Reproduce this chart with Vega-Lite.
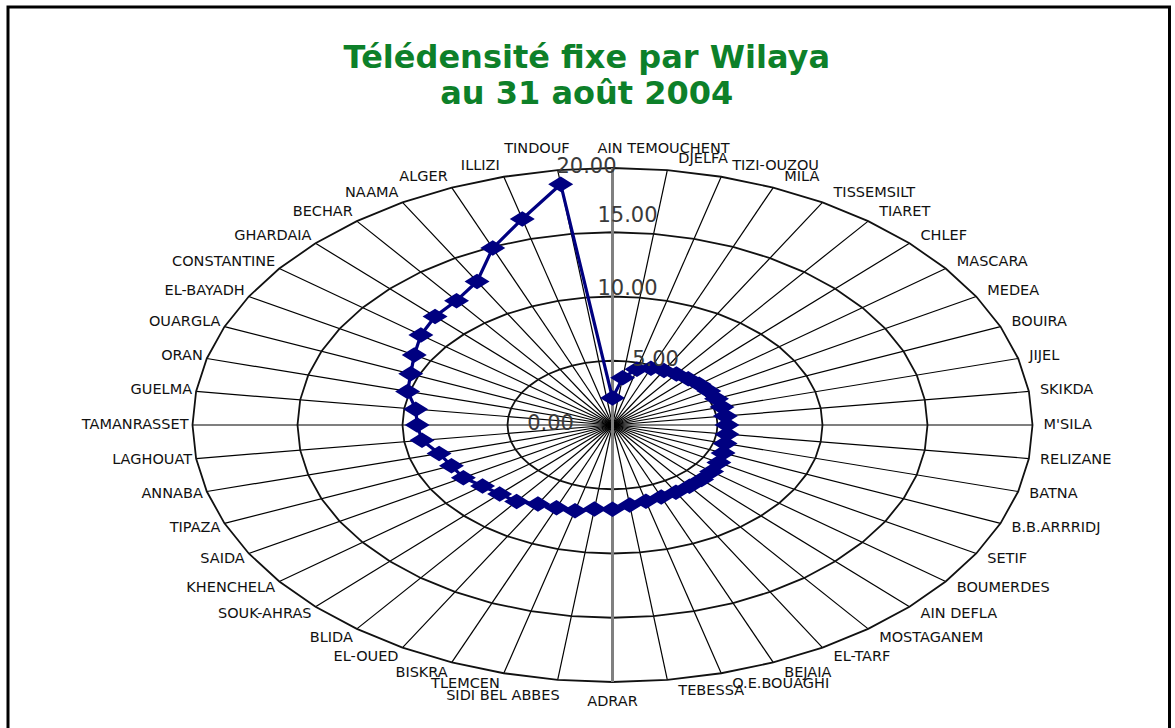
{
  "$schema": "https://vega.github.io/schema/vega-lite/v6.json",
  "width": 1161.5,
  "height": 724,
  "autosize": "none",
  "padding": {"left": 8, "top": 7, "right": 5.5, "bottom": -3},
  "background": "white",
  "config": {"view": {"stroke": "#000000", "strokeWidth": 3}, "font": "DejaVu Sans"},
  "title": {
    "text": ["Télédensité fixe par Wilaya", "au 31 août 2004"],
    "font": "DejaVu Sans",
    "fontSize": 32,
    "fontWeight": "bold",
    "color": "#0d8029",
    "lineHeight": 36,
    "anchor": "middle",
    "frame": "group",
    "offset": -104,
    "dx": -2
  },
  "datasets": {
    "wilaya": [
      {"name": "AIN TEMOUCHENT", "idx": 0, "v": 2.1},
      {"name": "DJELFA", "idx": 1, "v": 3.7},
      {"name": "TIZI-OUZOU", "idx": 2, "v": 4.5},
      {"name": "MILA", "idx": 3, "v": 4.78},
      {"name": "TISSEMSILT", "idx": 4, "v": 4.9},
      {"name": "TIARET", "idx": 5, "v": 5.0},
      {"name": "CHLEF", "idx": 6, "v": 5.1},
      {"name": "MASCARA", "idx": 7, "v": 5.2},
      {"name": "MEDEA", "idx": 8, "v": 5.3},
      {"name": "BOUIRA", "idx": 9, "v": 5.36},
      {"name": "JIJEL", "idx": 10, "v": 5.4},
      {"name": "SKIKDA", "idx": 11, "v": 5.42},
      {"name": "M'SILA", "idx": 12, "v": 5.45},
      {"name": "RELIZANE", "idx": 13, "v": 5.5},
      {"name": "BATNA", "idx": 14, "v": 5.55},
      {"name": "B.B.ARRRIDJ", "idx": 15, "v": 5.7},
      {"name": "SETIF", "idx": 16, "v": 5.85},
      {"name": "BOUMERDES", "idx": 17, "v": 5.95},
      {"name": "AIN DEFLA", "idx": 18, "v": 6.0},
      {"name": "MOSTAGANEM", "idx": 19, "v": 6.02},
      {"name": "EL-TARF", "idx": 20, "v": 6.04},
      {"name": "BEJAIA", "idx": 21, "v": 6.06},
      {"name": "O.E.BOUAGHI", "idx": 22, "v": 6.15},
      {"name": "TEBESSA", "idx": 23, "v": 6.28},
      {"name": "ADRAR", "idx": 24, "v": 6.55},
      {"name": "SIDI BEL ABBES", "idx": 25, "v": 6.6},
      {"name": "TLEMCEN", "idx": 26, "v": 6.9},
      {"name": "BISKRA", "idx": 27, "v": 6.97},
      {"name": "EL-OUED", "idx": 28, "v": 7.1},
      {"name": "BLIDA", "idx": 29, "v": 7.5},
      {"name": "SOUK-AHRAS", "idx": 30, "v": 7.6},
      {"name": "KHENCHELA", "idx": 31, "v": 7.8},
      {"name": "SAIDA", "idx": 32, "v": 8.2},
      {"name": "TIPAZA", "idx": 33, "v": 8.3},
      {"name": "ANNABA", "idx": 34, "v": 8.55},
      {"name": "LAGHOUAT", "idx": 35, "v": 9.15},
      {"name": "TAMANRASSET", "idx": 36, "v": 9.3},
      {"name": "GUELMA", "idx": 37, "v": 9.45},
      {"name": "ORAN", "idx": 38, "v": 10.1},
      {"name": "OUARGLA", "idx": 39, "v": 10.4},
      {"name": "EL-BAYADH", "idx": 40, "v": 10.9},
      {"name": "CONSTANTINE", "idx": 41, "v": 11.5},
      {"name": "GHARDAIA", "idx": 42, "v": 11.95},
      {"name": "BECHAR", "idx": 43, "v": 12.2},
      {"name": "NAAMA", "idx": 44, "v": 12.9},
      {"name": "ALGER", "idx": 45, "v": 14.9},
      {"name": "ILLIZI", "idx": 46, "v": 16.6},
      {"name": "TINDOUF", "idx": 47, "v": 18.9}
    ],
    "ticks": [
      {"t": 0, "lab": "0.00"},
      {"t": 5, "lab": "5.00"},
      {"t": 10, "lab": "10.00"},
      {"t": 15, "lab": "15.00"},
      {"t": 20, "lab": "20.00"}
    ]
  },
  "data": {"name": "wilaya"},
  "transform": [
    {"calculate": "datum.idx * PI / 24", "as": "theta"},
    {"calculate": "sin(datum.theta)", "as": "s"},
    {"calculate": "cos(datum.theta)", "as": "c"},
    {"calculate": "20 * datum.s", "as": "ex"},
    {"calculate": "20 * datum.c", "as": "ey"},
    {"calculate": "20.85 * datum.c", "as": "ly"},
    {"calculate": "datum.v * datum.s", "as": "px"},
    {"calculate": "datum.v * datum.c", "as": "py"}
  ],
  "layer": [
    {
      "transform": [{"filter": "datum.idx != 0 && datum.idx != 24"}],
      "mark": {"type": "rule", "color": "#000000", "strokeWidth": 1.2},
      "encoding": {
        "x": {"field": "ex", "type": "quantitative", "scale": {"domain": [-20, 20], "range": [184.5, 1024.5], "nice": false, "zero": false}, "axis": null},
        "y": {"field": "ey", "type": "quantitative", "scale": {"domain": [-20, 20], "range": [675, 161], "nice": false, "zero": false}, "axis": null},
        "x2": {"datum": 0},
        "y2": {"datum": 0}
      }
    },
    {
      "transform": [
        {"calculate": "[5, 10, 15, 20]", "as": "ring"},
        {"flatten": ["ring"]},
        {"calculate": "datum.ring * datum.s", "as": "rx"},
        {"calculate": "datum.ring * datum.c", "as": "ry"}
      ],
      "mark": {"type": "line", "interpolate": "linear-closed", "color": "#111111", "strokeWidth": 1.8},
      "encoding": {
        "x": {"field": "rx", "type": "quantitative", "scale": {"domain": [-20, 20], "range": [184.5, 1024.5], "nice": false, "zero": false}, "axis": null},
        "y": {"field": "ry", "type": "quantitative", "scale": {"domain": [-20, 20], "range": [675, 161], "nice": false, "zero": false}, "axis": null},
        "detail": {"field": "ring", "type": "nominal"},
        "order": {"field": "idx", "type": "quantitative"}
      }
    },
    {
      "transform": [{"filter": "datum.idx == 0 || datum.idx == 24"}],
      "mark": {"type": "rule", "color": "#808080", "strokeWidth": 3},
      "encoding": {
        "x": {"field": "ex", "type": "quantitative", "scale": {"domain": [-20, 20], "range": [184.5, 1024.5], "nice": false, "zero": false}, "axis": null},
        "y": {"field": "ey", "type": "quantitative", "scale": {"domain": [-20, 20], "range": [675, 161], "nice": false, "zero": false}, "axis": null},
        "x2": {"datum": 0},
        "y2": {"datum": 0}
      }
    },
    {
      "mark": {"type": "line", "interpolate": "linear-closed", "color": "#000080", "strokeWidth": 3.2},
      "encoding": {
        "x": {"field": "px", "type": "quantitative", "scale": {"domain": [-20, 20], "range": [184.5, 1024.5], "nice": false, "zero": false}, "axis": null},
        "y": {"field": "py", "type": "quantitative", "scale": {"domain": [-20, 20], "range": [675, 161], "nice": false, "zero": false}, "axis": null},
        "order": {"field": "idx", "type": "quantitative"}
      }
    },
    {
      "mark": {"type": "point", "shape": "M-1,0L0,-0.62L1,0L0,0.62Z", "filled": true, "size": 625, "color": "#000080", "opacity": 1},
      "encoding": {
        "x": {"field": "px", "type": "quantitative", "scale": {"domain": [-20, 20], "range": [184.5, 1024.5], "nice": false, "zero": false}, "axis": null},
        "y": {"field": "py", "type": "quantitative", "scale": {"domain": [-20, 20], "range": [675, 161], "nice": false, "zero": false}, "axis": null},
        "tooltip": [{"field": "name", "type": "nominal"}, {"field": "v", "type": "quantitative"}]
      }
    },
    {
      "transform": [{"filter": "datum.idx > 0 && datum.idx < 24"}],
      "mark": {"type": "text", "align": "left", "baseline": "middle", "dx": 11, "fontSize": 14.5, "color": "#111111"},
      "encoding": {
        "x": {"field": "ex", "type": "quantitative", "scale": {"domain": [-20, 20], "range": [184.5, 1024.5], "nice": false, "zero": false}, "axis": null},
        "y": {"field": "ly", "type": "quantitative", "scale": {"domain": [-20, 20], "range": [675, 161], "nice": false, "zero": false}, "axis": null},
        "text": {"field": "name", "type": "nominal"}
      }
    },
    {
      "transform": [{"filter": "datum.idx > 24 && datum.idx < 47 && datum.idx != 25"}],
      "mark": {"type": "text", "align": "right", "baseline": "middle", "dx": -4, "fontSize": 14.5, "color": "#111111"},
      "encoding": {
        "x": {"field": "ex", "type": "quantitative", "scale": {"domain": [-20, 20], "range": [184.5, 1024.5], "nice": false, "zero": false}, "axis": null},
        "y": {"field": "ly", "type": "quantitative", "scale": {"domain": [-20, 20], "range": [675, 161], "nice": false, "zero": false}, "axis": null},
        "text": {"field": "name", "type": "nominal"}
      }
    },
    {
      "transform": [{"filter": "datum.idx == 25"}],
      "mark": {"type": "text", "align": "right", "baseline": "middle", "dx": 2, "dy": 5, "fontSize": 14.5, "color": "#111111"},
      "encoding": {
        "x": {"field": "ex", "type": "quantitative", "scale": {"domain": [-20, 20], "range": [184.5, 1024.5], "nice": false, "zero": false}, "axis": null},
        "y": {"field": "ly", "type": "quantitative", "scale": {"domain": [-20, 20], "range": [675, 161], "nice": false, "zero": false}, "axis": null},
        "text": {"field": "name", "type": "nominal"}
      }
    },
    {
      "transform": [{"filter": "datum.idx == 47"}],
      "mark": {"type": "text", "align": "right", "baseline": "middle", "dx": 12, "dy": -10, "fontSize": 14.5, "color": "#111111"},
      "encoding": {
        "x": {"field": "ex", "type": "quantitative", "scale": {"domain": [-20, 20], "range": [184.5, 1024.5], "nice": false, "zero": false}, "axis": null},
        "y": {"field": "ly", "type": "quantitative", "scale": {"domain": [-20, 20], "range": [675, 161], "nice": false, "zero": false}, "axis": null},
        "text": {"field": "name", "type": "nominal"}
      }
    },
    {
      "transform": [{"filter": "datum.idx == 0"}],
      "mark": {"type": "text", "align": "left", "baseline": "middle", "dx": -15, "dy": -8, "fontSize": 14.5, "color": "#111111"},
      "encoding": {
        "x": {"field": "ex", "type": "quantitative", "scale": {"domain": [-20, 20], "range": [184.5, 1024.5], "nice": false, "zero": false}, "axis": null},
        "y": {"field": "ly", "type": "quantitative", "scale": {"domain": [-20, 20], "range": [675, 161], "nice": false, "zero": false}, "axis": null},
        "text": {"field": "name", "type": "nominal"}
      }
    },
    {
      "transform": [{"filter": "datum.idx == 24"}],
      "mark": {"type": "text", "align": "center", "baseline": "middle", "dy": 9, "fontSize": 14.5, "color": "#111111"},
      "encoding": {
        "x": {"field": "ex", "type": "quantitative", "scale": {"domain": [-20, 20], "range": [184.5, 1024.5], "nice": false, "zero": false}, "axis": null},
        "y": {"field": "ly", "type": "quantitative", "scale": {"domain": [-20, 20], "range": [675, 161], "nice": false, "zero": false}, "axis": null},
        "text": {"field": "name", "type": "nominal"}
      }
    },
    {
      "data": {"name": "ticks"},
      "transform": [{"filter": "datum.t == 0"}, {"calculate": "0", "as": "x0"}],
      "mark": {"type": "text", "align": "center", "baseline": "middle", "dx": -62, "dy": -1, "fontSize": 21, "color": "#3a3a3a"},
      "encoding": {
        "x": {"field": "x0", "type": "quantitative", "scale": {"domain": [-20, 20], "range": [184.5, 1024.5], "nice": false, "zero": false}, "axis": null},
        "y": {"field": "t", "type": "quantitative", "scale": {"domain": [-20, 20], "range": [675, 161], "nice": false, "zero": false}, "axis": null},
        "text": {"field": "lab", "type": "nominal"}
      }
    },
    {
      "data": {"name": "ticks"},
      "transform": [{"filter": "datum.t == 5"}, {"calculate": "0", "as": "x0"}],
      "mark": {"type": "text", "align": "center", "baseline": "middle", "dx": 43, "dy": -1, "fontSize": 21, "color": "#3a3a3a"},
      "encoding": {
        "x": {"field": "x0", "type": "quantitative", "scale": {"domain": [-20, 20], "range": [184.5, 1024.5], "nice": false, "zero": false}, "axis": null},
        "y": {"field": "t", "type": "quantitative", "scale": {"domain": [-20, 20], "range": [675, 161], "nice": false, "zero": false}, "axis": null},
        "text": {"field": "lab", "type": "nominal"}
      }
    },
    {
      "data": {"name": "ticks"},
      "transform": [{"filter": "datum.t == 10"}, {"calculate": "0", "as": "x0"}],
      "mark": {"type": "text", "align": "center", "baseline": "middle", "dx": 15, "dy": -8, "fontSize": 21, "color": "#3a3a3a"},
      "encoding": {
        "x": {"field": "x0", "type": "quantitative", "scale": {"domain": [-20, 20], "range": [184.5, 1024.5], "nice": false, "zero": false}, "axis": null},
        "y": {"field": "t", "type": "quantitative", "scale": {"domain": [-20, 20], "range": [675, 161], "nice": false, "zero": false}, "axis": null},
        "text": {"field": "lab", "type": "nominal"}
      }
    },
    {
      "data": {"name": "ticks"},
      "transform": [{"filter": "datum.t == 15"}, {"calculate": "0", "as": "x0"}],
      "mark": {"type": "text", "align": "center", "baseline": "middle", "dx": 15, "dy": -16, "fontSize": 21, "color": "#3a3a3a"},
      "encoding": {
        "x": {"field": "x0", "type": "quantitative", "scale": {"domain": [-20, 20], "range": [184.5, 1024.5], "nice": false, "zero": false}, "axis": null},
        "y": {"field": "t", "type": "quantitative", "scale": {"domain": [-20, 20], "range": [675, 161], "nice": false, "zero": false}, "axis": null},
        "text": {"field": "lab", "type": "nominal"}
      }
    },
    {
      "data": {"name": "ticks"},
      "transform": [{"filter": "datum.t == 20"}, {"calculate": "0", "as": "x0"}],
      "mark": {"type": "text", "align": "center", "baseline": "middle", "dx": -26, "dy": -1, "fontSize": 21, "color": "#3a3a3a"},
      "encoding": {
        "x": {"field": "x0", "type": "quantitative", "scale": {"domain": [-20, 20], "range": [184.5, 1024.5], "nice": false, "zero": false}, "axis": null},
        "y": {"field": "t", "type": "quantitative", "scale": {"domain": [-20, 20], "range": [675, 161], "nice": false, "zero": false}, "axis": null},
        "text": {"field": "lab", "type": "nominal"}
      }
    }
  ]
}
